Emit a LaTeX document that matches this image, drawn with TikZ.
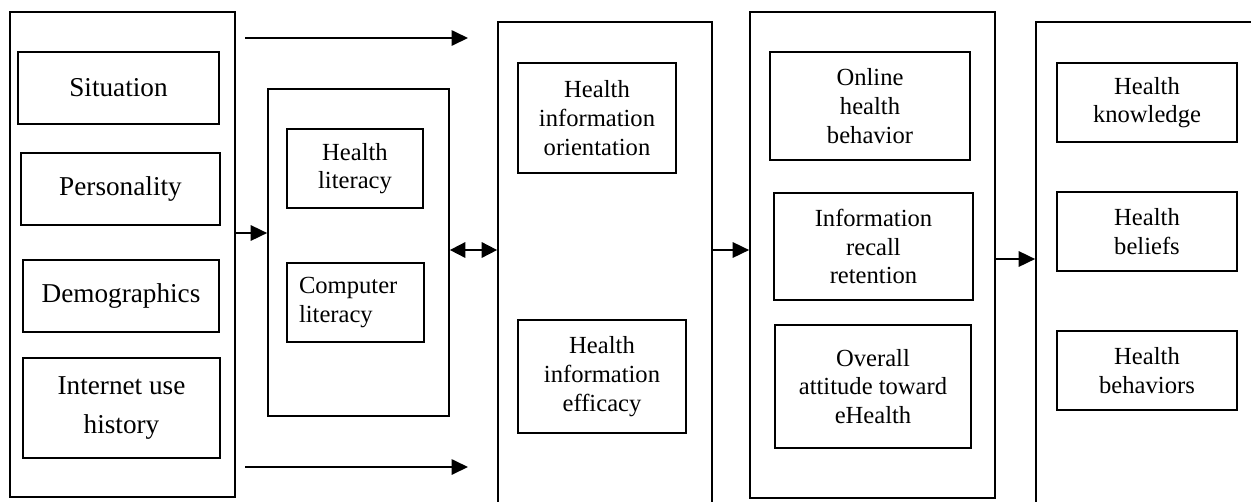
\documentclass[tikz,border=0pt]{standalone}
\usepackage{fontspec}
\setmainfont{Liberation Serif}
\usetikzlibrary{arrows.meta}
\tikzset{
  frame/.style={draw,line width=1pt,inner sep=0pt},
  box/.style={draw,line width=1pt,align=center,inner sep=0pt,font=\fontsize{14}{16.3}\selectfont},
  bigbox/.style={box,font=\fontsize{15.5}{22}\selectfont},
  link/.style={line width=1pt,-{Triangle[length=0.33cm,width=0.31cm]}},
  dlink/.style={line width=1pt,{Triangle[length=0.31cm,width=0.31cm]}-{Triangle[length=0.31cm,width=0.31cm]}},
}
\begin{document}
\begin{tikzpicture}[x=0.02cm,y=-0.02cm]
  \clip (0,0) rectangle (1251,501);
  % factors
  \node[frame,minimum width=4.5cm,minimum height=9.7cm] (col1) at (122.5,254.5) {};
  \node[bigbox,minimum width=4.02cm,minimum height=1.44cm] (sit) at (118.5,88) {Situation};
  \node[bigbox,minimum width=3.98cm,minimum height=1.44cm] (pers) at (120.5,189) {Personality};
  \node[bigbox,minimum width=3.92cm,minimum height=1.44cm] (demo) at (121,296) {Demographics};
  \node[bigbox,minimum width=3.94cm,minimum height=2cm] (inet) at (121.5,408) {Internet use\\history};
  % literacy
  \node[frame,minimum width=3.62cm,minimum height=6.54cm] (lit) at (358.5,252.5) {};
  \node[box,minimum width=2.72cm,minimum height=1.58cm] (hlit) at (355,168.5) {Health\\literacy};
  \node[box,align=left,text width=2.26cm,inner xsep=0.24cm,minimum height=1.58cm] (clit) at (355.5,302.5) {Computer\\literacy};
  % orientation
  \node[frame,minimum width=4.28cm,minimum height=9.96cm] (col2) at (605,271) {};
  \node[box,minimum width=3.16cm,minimum height=2.2cm] (hio) at (597,118) {Health\\information\\orientation};
  \node[box,minimum width=3.36cm,minimum height=2.26cm] (hie) at (602,376.5) {Health\\information\\efficacy};
  % use
  \node[frame,minimum width=4.9cm,minimum height=9.72cm] (col3) at (872.5,255) {};
  \node[box,minimum width=4cm,minimum height=2.16cm] (ohb) at (870,106) {Online\\health\\behavior};
  \node[box,minimum width=3.98cm,minimum height=2.14cm] (irr) at (873.5,246.5) {Information\\recall\\retention};
  \node[box,minimum width=3.92cm,minimum height=2.46cm] (oat) at (873,386.5) {Overall\\attitude toward\\eHealth};
  % outcomes
  \node[frame,minimum width=4.68cm,minimum height=9.96cm] (col5) at (1153,271) {};
  \node[box,minimum width=3.6cm,minimum height=1.58cm] (hk) at (1147,102.5) {Health\\knowledge};
  \node[box,minimum width=3.6cm,minimum height=1.58cm] (hbel) at (1147,231.5) {Health\\beliefs};
  \node[box,minimum width=3.6cm,minimum height=1.58cm] (hbeh) at (1147,370.5) {Health\\behaviors};
  % arrows
  \coordinate (topA) at (245,38);
  \coordinate (topB) at (468,38);
  \coordinate (botA) at (245,467);
  \coordinate (botB) at (468,467);
  \draw[link] (topA) -- (topB);
  \draw[link] (botA) -- (botB);
  \draw[link] (col1.east |- 0,233) -- (lit.west |- 0,233);
  \draw[dlink] (lit.east |- 0,250) -- (col2.west |- 0,250);
  \draw[link] (col2.east |- 0,250) -- (col3.west |- 0,250);
  \draw[link] (col3.east |- 0,259) -- (col5.west |- 0,259);
\end{tikzpicture}
\end{document}
